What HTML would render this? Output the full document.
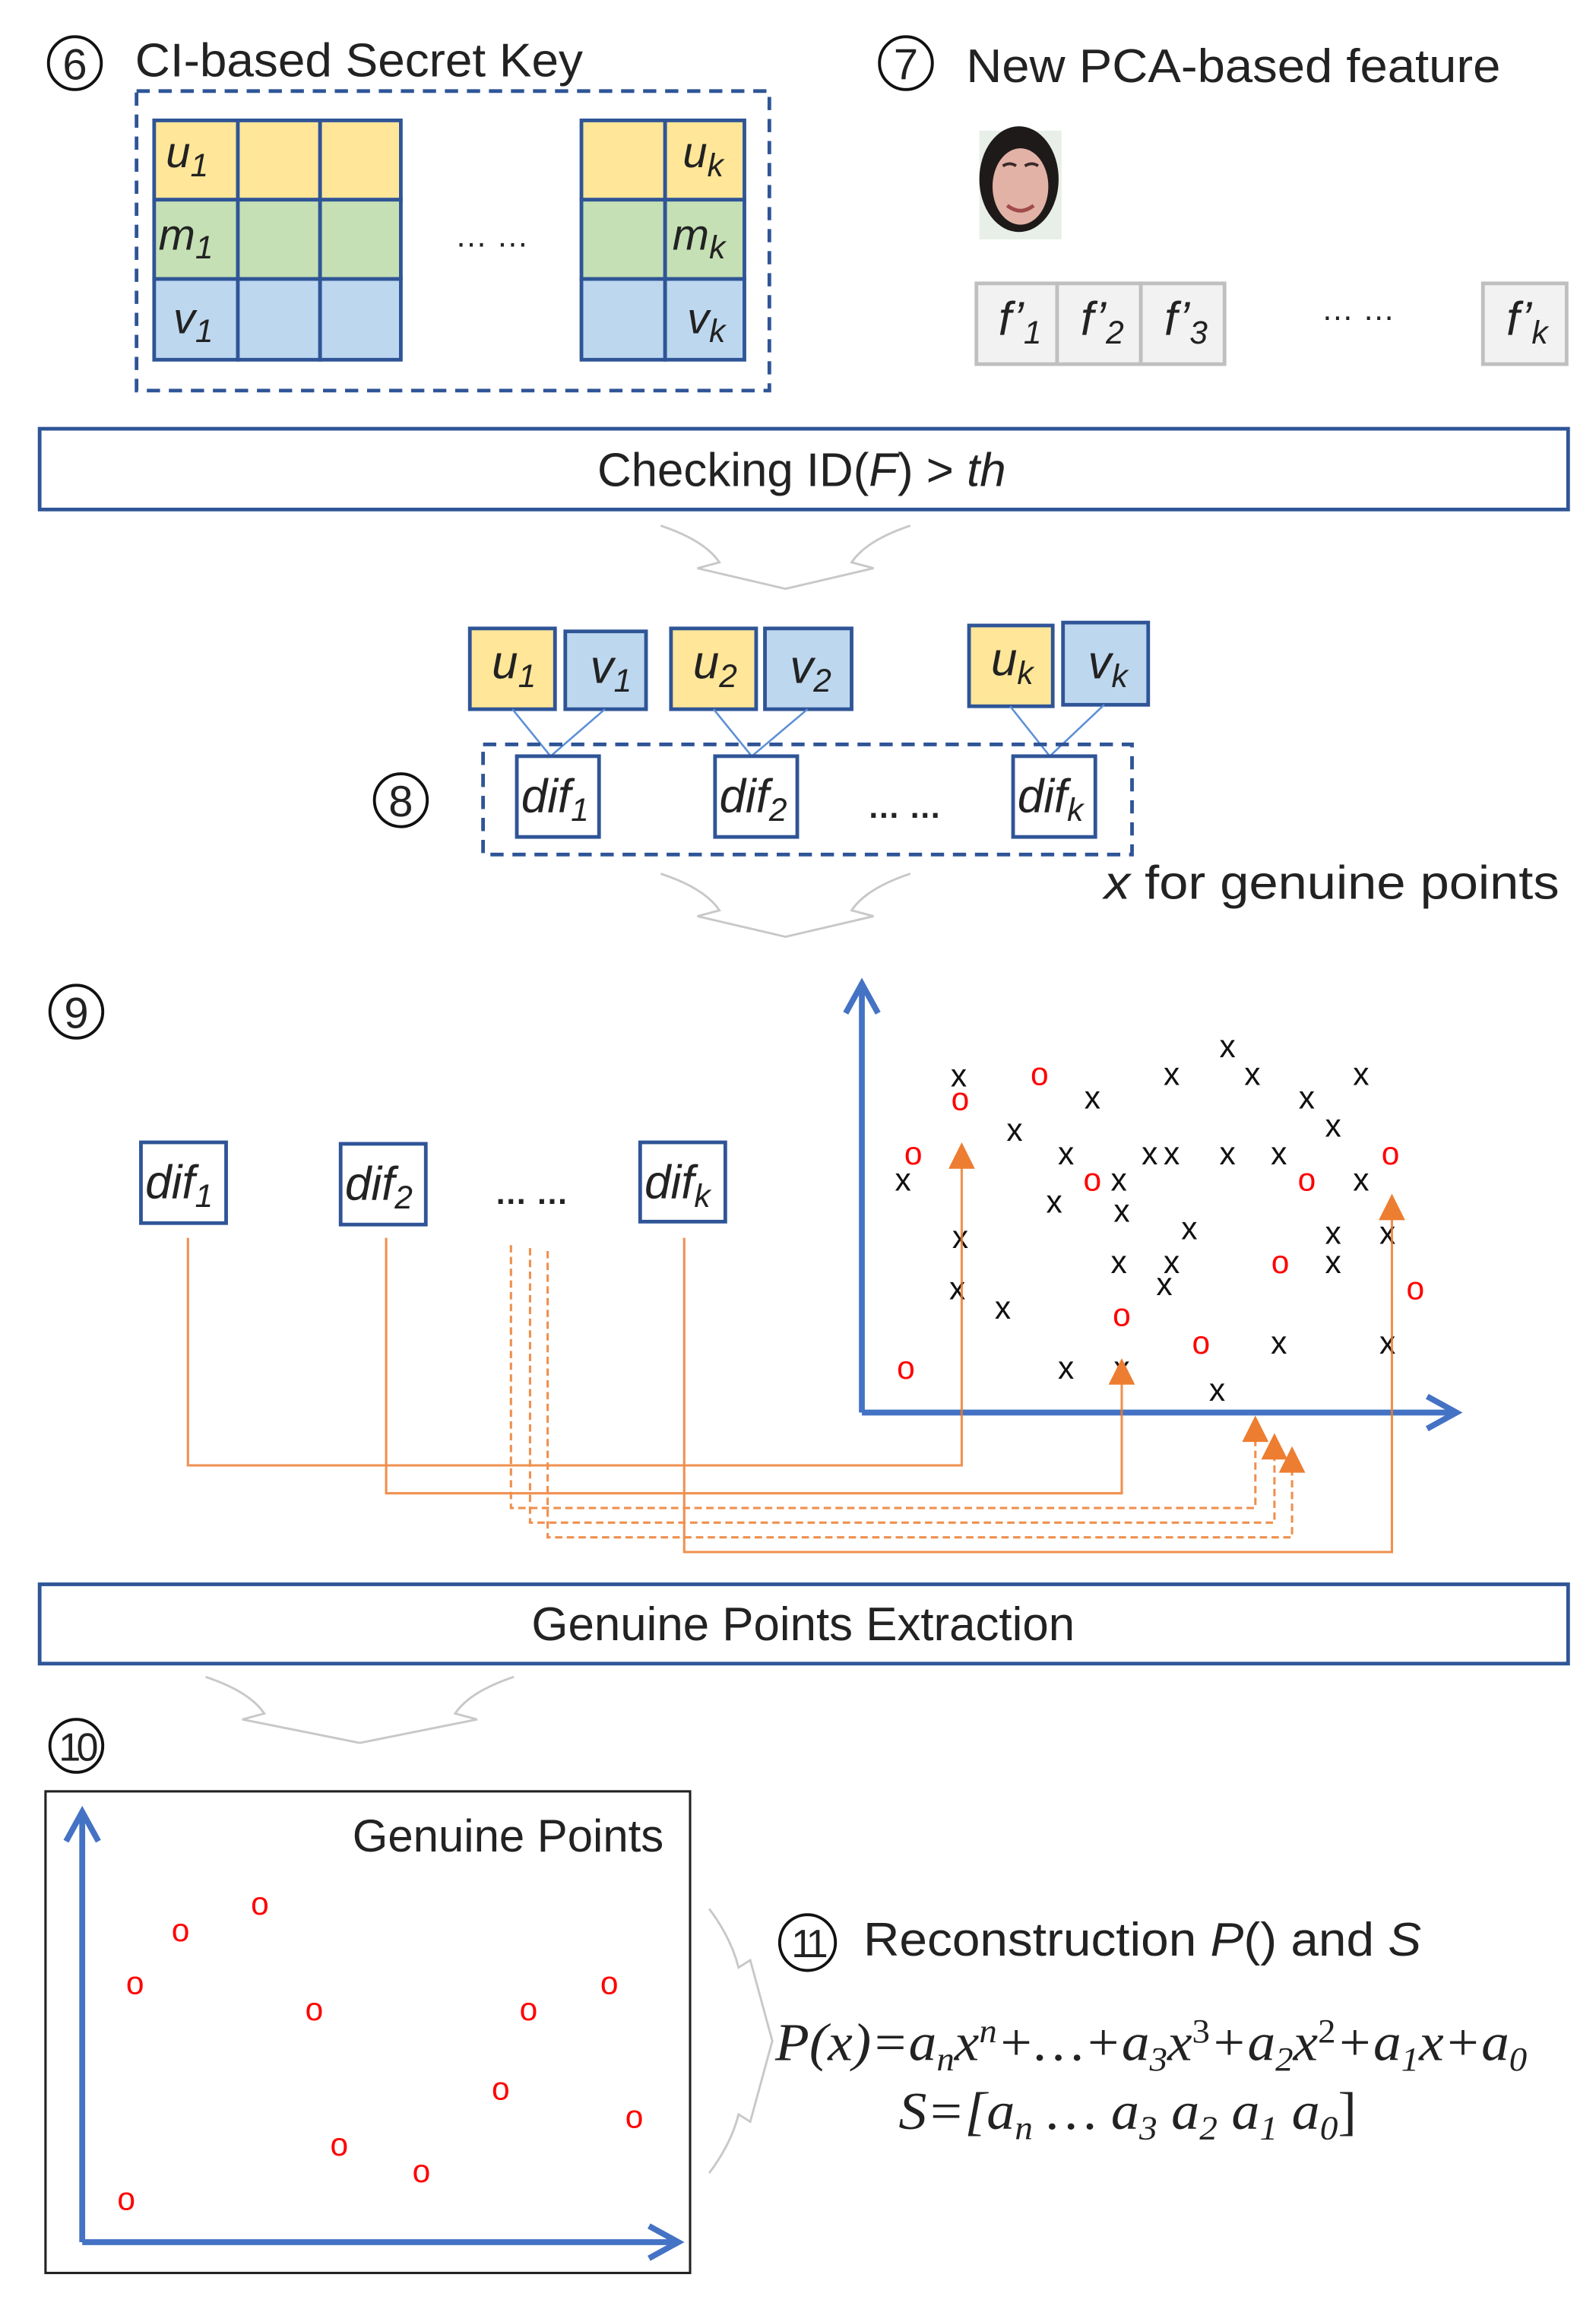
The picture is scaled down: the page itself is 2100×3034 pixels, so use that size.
<!DOCTYPE html>
<html><head><meta charset="utf-8"><style>
html,body{margin:0;padding:0;background:#fff}
svg{display:block}
.t{font-family:"Liberation Sans",sans-serif;fill:#222}
.i{font-family:"Liberation Sans",sans-serif;font-style:italic;fill:#222}
.s{font-family:"Liberation Serif",serif;font-style:italic;fill:#222}
.x{font-family:"Liberation Sans",sans-serif;font-size:22px;fill:#111;text-anchor:middle}
.o{font-family:"Liberation Sans",sans-serif;font-size:22px;fill:#f00;text-anchor:middle}
</style></head><body>
<svg width="2100" height="3034" viewBox="0 0 1087 1570.5" preserveAspectRatio="none" xmlns="http://www.w3.org/2000/svg">
<!-- 6 -->
<circle cx="51" cy="43" r="18" fill="none" stroke="#111" stroke-width="2"/>
<text x="51" y="54" class="t" font-size="30" text-anchor="middle" fill="#111">6</text>
<text x="92" y="52" class="t" font-size="32" textLength="305" lengthAdjust="spacingAndGlyphs">CI-based Secret Key</text>
<rect x="93" y="62" width="431" height="204" fill="none" stroke="#2f5597" stroke-width="2.5" stroke-dasharray="9,6"/>
<g stroke="#2f5597" stroke-width="2.5">
<rect x="105" y="82" width="57" height="54" fill="#ffe699"/><rect x="162" y="82" width="56" height="54" fill="#ffe699"/><rect x="218" y="82" width="55" height="54" fill="#ffe699"/>
<rect x="105" y="136" width="57" height="54" fill="#c5e0b4"/><rect x="162" y="136" width="56" height="54" fill="#c5e0b4"/><rect x="218" y="136" width="55" height="54" fill="#c5e0b4"/>
<rect x="105" y="190" width="57" height="55" fill="#bdd7ee"/><rect x="162" y="190" width="56" height="55" fill="#bdd7ee"/><rect x="218" y="190" width="55" height="55" fill="#bdd7ee"/>
<rect x="396" y="82" width="57" height="54" fill="#ffe699"/><rect x="453" y="82" width="54" height="54" fill="#ffe699"/>
<rect x="396" y="136" width="57" height="54" fill="#c5e0b4"/><rect x="453" y="136" width="54" height="54" fill="#c5e0b4"/>
<rect x="396" y="190" width="57" height="55" fill="#bdd7ee"/><rect x="453" y="190" width="54" height="55" fill="#bdd7ee"/>
</g>
<g class="i" font-size="30">
<text x="113" y="114">u<tspan font-size="22" dy="6">1</tspan></text>
<text x="108" y="170">m<tspan font-size="22" dy="6">1</tspan></text>
<text x="118" y="227">v<tspan font-size="22" dy="6">1</tspan></text>
<text x="465" y="114">u<tspan font-size="22" dy="6">k</tspan></text>
<text x="458" y="170">m<tspan font-size="22" dy="6">k</tspan></text>
<text x="468" y="227">v<tspan font-size="22" dy="6">k</tspan></text>
</g>
<text x="335" y="168" class="t" font-size="22" text-anchor="middle">… …</text>
<!-- 7 -->
<circle cx="617" cy="43" r="18" fill="none" stroke="#111" stroke-width="2"/>
<text x="617" y="54" class="t" font-size="30" text-anchor="middle" fill="#111">7</text>
<text x="658" y="56" class="t" font-size="32" textLength="364" lengthAdjust="spacingAndGlyphs">New PCA-based feature</text>
<!-- face -->
<rect x="667" y="89" width="56" height="74" fill="#e8efe8"/>
<ellipse cx="694" cy="122" rx="27" ry="36" fill="#1e1a1a"/>
<ellipse cx="695" cy="127" rx="19" ry="26" fill="#e3b2a6"/>
<path d="M683 113 q5-3 9 0 M698 113 q5-3 9 0" stroke="#3a2a2a" stroke-width="2" fill="none"/>
<path d="M686 140 q9 7 18 0" stroke="#a04a4a" stroke-width="2.5" fill="none"/>
<g stroke="#bfbfbf" stroke-width="2.5" fill="#f2f2f2">
<rect x="665" y="193" width="55" height="55"/><rect x="720" y="193" width="57" height="55"/><rect x="777" y="193" width="57" height="55"/><rect x="1010" y="193" width="57" height="55"/>
</g>
<g class="i" font-size="32">
<text x="680" y="228">f’<tspan font-size="22" dy="6">1</tspan></text>
<text x="736" y="228">f’<tspan font-size="22" dy="6">2</tspan></text>
<text x="793" y="228">f’<tspan font-size="22" dy="6">3</tspan></text>
<text x="1026" y="228">f’<tspan font-size="22" dy="6">k</tspan></text>
</g>
<text x="925" y="218" class="t" font-size="22" text-anchor="middle">… …</text>
<!-- checking -->
<rect x="27" y="292" width="1041" height="55" fill="#fff" stroke="#2f5597" stroke-width="2.5"/>
<text x="546" y="331" class="t" font-size="32" text-anchor="middle">Checking ID(<tspan font-style="italic">F</tspan>) &gt; <tspan font-style="italic">th</tspan></text>
<!-- chevrons -->
<g fill="none" stroke="#c8c8c8" stroke-width="1.5">
<path d="M450 358 q30 10 40 25 l-15 4 l60 14 l60-14 l-15-4 q10-15 40-25"/>
<path d="M450 595 q30 10 40 25 l-15 4 l60 14 l60-14 l-15-4 q10-15 40-25"/>
<path d="M140 1142 q30 10 40 25 l-15 4 l80 16 l80-16 l-15-4 q10-15 40-25"/>
<path d="M483 1300 q15 20 20 40 l8-5 l15 55 l-15 55 l-8-5 q-5 20 -20 40"/>
</g>
<!-- 8 -->
<g stroke="#2f5597" stroke-width="2.5">
<rect x="320" y="428" width="58" height="55" fill="#ffe699"/><rect x="385" y="430" width="55" height="53" fill="#bdd7ee"/>
<rect x="457" y="428" width="58" height="55" fill="#ffe699"/><rect x="521" y="428" width="59" height="55" fill="#bdd7ee"/>
<rect x="660" y="426" width="57" height="55" fill="#ffe699"/><rect x="724" y="424" width="58" height="56" fill="#bdd7ee"/>
</g>
<g class="i" font-size="32">
<text x="335" y="462">u<tspan font-size="22" dy="6">1</tspan></text>
<text x="402" y="465">v<tspan font-size="22" dy="6">1</tspan></text>
<text x="472" y="462">u<tspan font-size="22" dy="6">2</tspan></text>
<text x="538" y="465">v<tspan font-size="22" dy="6">2</tspan></text>
<text x="675" y="460">u<tspan font-size="22" dy="6">k</tspan></text>
<text x="741" y="462">v<tspan font-size="22" dy="6">k</tspan></text>
</g>
<g stroke="#5b8fd6" stroke-width="1.3" fill="none">
<path d="M349 483 L375 515 L412 483"/><path d="M486 483 L512 515 L550 483"/><path d="M688 481 L715 515 L752 480"/>
</g>
<rect x="329" y="507" width="442" height="75" fill="none" stroke="#2f5597" stroke-width="2.5" stroke-dasharray="9,6"/>
<g stroke="#2f5597" stroke-width="2.5" fill="#fff">
<rect x="352" y="515" width="56" height="55"/><rect x="487" y="515" width="56" height="55"/><rect x="690" y="515" width="56" height="55"/>
<rect x="96" y="778" width="58" height="55"/><rect x="232" y="779" width="58" height="55"/><rect x="436" y="778" width="58" height="54"/>
</g>
<g class="i" font-size="32">
<text x="355" y="553">dif<tspan font-size="22" dy="6">1</tspan></text>
<text x="490" y="553">dif<tspan font-size="22" dy="6">2</tspan></text>
<text x="693" y="553">dif<tspan font-size="22" dy="6">k</tspan></text>
<text x="99" y="816">dif<tspan font-size="22" dy="6">1</tspan></text>
<text x="235" y="817">dif<tspan font-size="22" dy="6">2</tspan></text>
<text x="439" y="816">dif<tspan font-size="22" dy="6">k</tspan></text>
</g>
<text x="616" y="557" class="t" font-size="22" text-anchor="middle" font-weight="bold">… …</text>
<text x="362" y="820" class="t" font-size="22" text-anchor="middle" font-weight="bold">… …</text>
<circle cx="273" cy="545" r="18" fill="none" stroke="#111" stroke-width="2"/>
<text x="273" y="556" class="t" font-size="30" text-anchor="middle" fill="#111">8</text>
<text x="752" y="612" class="t" font-size="32" textLength="310" lengthAdjust="spacingAndGlyphs"><tspan font-style="italic">x</tspan> for genuine points</text>
<!-- 9 -->
<circle cx="52" cy="689" r="18" fill="none" stroke="#111" stroke-width="2"/>
<text x="52" y="700" class="t" font-size="30" text-anchor="middle" fill="#111">9</text>
<g stroke="#4472c4" stroke-width="4" fill="none">
<path d="M587 962 V670 M576 690 L587 670 L598 690"/>
<path d="M587 962 H990 M972 951 L992 962 L972 973"/>
</g>
<g class="x">
<text x="653" y="740">x</text><text x="744" y="755">x</text><text x="798" y="739">x</text><text x="836" y="720">x</text><text x="853" y="739">x</text><text x="890" y="755">x</text><text x="927" y="739">x</text><text x="691" y="777">x</text><text x="908" y="774">x</text><text x="726" y="793">x</text><text x="783" y="793">x</text><text x="798" y="793">x</text><text x="836" y="793">x</text><text x="871" y="793">x</text><text x="615" y="811">x</text><text x="762" y="811">x</text><text x="927" y="811">x</text><text x="718" y="826">x</text><text x="764" y="832">x</text><text x="810" y="844">x</text><text x="908" y="847">x</text><text x="945" y="847">x</text><text x="654" y="850">x</text><text x="762" y="867">x</text><text x="798" y="867">x</text><text x="908" y="867">x</text><text x="793" y="882">x</text><text x="652" y="885">x</text><text x="683" y="898">x</text><text x="871" y="922">x</text><text x="945" y="922">x</text><text x="726" y="939">x</text><text x="764" y="939">x</text><text x="829" y="954">x</text>
</g>
<g class="o">
<text x="708" y="739">o</text><text x="654" y="756">o</text><text x="622" y="793">o</text><text x="744" y="811">o</text><text x="890" y="811">o</text><text x="947" y="793">o</text><text x="872" y="867">o</text><text x="964" y="885">o</text><text x="764" y="903">o</text><text x="818" y="922">o</text><text x="617" y="939">o</text>
</g>
<g stroke="#ed7d31" stroke-width="1.6" fill="none" opacity="0.85">
<path d="M128 843 V998 H655 V792"/>
<path d="M263 843 V1017 H764 V940"/>
<path d="M466 843 V1057 H948 V828"/>
<path d="M348 848 V1027 H855 V978" stroke-dasharray="5,3"/>
<path d="M361 850 V1037 H868 V990" stroke-dasharray="5,3"/>
<path d="M373 852 V1047 H880 V1000" stroke-dasharray="5,3"/>
</g>
<g fill="#ed7d31">
<path d="M655 778 L646 796 L664 796Z"/><path d="M764 925 L755 943 L773 943Z"/><path d="M948 813 L939 831 L957 831Z"/>
<path d="M855 964 L846 982 L864 982Z"/><path d="M868 976 L859 994 L877 994Z"/><path d="M880 985 L871 1003 L889 1003Z"/>
</g>
<!-- extraction -->
<rect x="27" y="1079" width="1041" height="54" fill="#fff" stroke="#2f5597" stroke-width="2.5"/>
<text x="547" y="1117" class="t" font-size="32" text-anchor="middle">Genuine Points Extraction</text>
<!-- 10 -->
<circle cx="52" cy="1189" r="18" fill="none" stroke="#111" stroke-width="2"/>
<text x="52" y="1199" class="t" font-size="27" text-anchor="middle" fill="#111" letter-spacing="-3">10</text>
<rect x="31" y="1220" width="439" height="328" fill="#fff" stroke="#222" stroke-width="1.6"/>
<g stroke="#4472c4" stroke-width="4" fill="none">
<path d="M56 1527 V1234 M45 1254 L56 1234 L67 1254"/>
<path d="M56 1527 H460 M442 1516 L462 1527 L442 1538"/>
</g>
<text x="452" y="1261" class="t" font-size="31" text-anchor="end">Genuine Points</text>
<g class="o">
<text x="123" y="1322">o</text><text x="177" y="1304">o</text><text x="92" y="1358">o</text><text x="214" y="1376">o</text><text x="360" y="1376">o</text><text x="415" y="1358">o</text><text x="341" y="1430">o</text><text x="432" y="1449">o</text><text x="231" y="1468">o</text><text x="287" y="1486">o</text><text x="86" y="1505">o</text>
</g>
<!-- 11 -->
<circle cx="550" cy="1323" r="19" fill="none" stroke="#111" stroke-width="2"/>
<text x="550" y="1333" class="t" font-size="27" text-anchor="middle" fill="#111" letter-spacing="-3">11</text>
<text x="588" y="1332" class="t" font-size="32" textLength="380" lengthAdjust="spacingAndGlyphs">Reconstruction <tspan font-style="italic">P</tspan>() and <tspan font-style="italic">S</tspan></text>
<text x="528" y="1403" class="s" font-size="36" textLength="512" lengthAdjust="spacingAndGlyphs">P(x)=a<tspan font-size="23" dy="7">n</tspan><tspan dy="-7">x</tspan><tspan font-size="23" dy="-12">n</tspan><tspan dy="12">+…+a</tspan><tspan font-size="23" dy="7">3</tspan><tspan dy="-7">x</tspan><tspan font-size="23" dy="-12" font-style="normal">3</tspan><tspan dy="12">+a</tspan><tspan font-size="23" dy="7">2</tspan><tspan dy="-7">x</tspan><tspan font-size="23" dy="-12" font-style="normal">2</tspan><tspan dy="12">+a</tspan><tspan font-size="23" dy="7">1</tspan><tspan dy="-7">x+a</tspan><tspan font-size="23" dy="7">0</tspan></text>
<text x="612" y="1450" class="s" font-size="36" textLength="312" lengthAdjust="spacingAndGlyphs">S=[a<tspan font-size="23" dy="7">n</tspan><tspan dy="-7"> … a</tspan><tspan font-size="23" dy="7">3</tspan><tspan dy="-7"> a</tspan><tspan font-size="23" dy="7">2</tspan><tspan dy="-7"> a</tspan><tspan font-size="23" dy="7">1</tspan><tspan dy="-7"> a</tspan><tspan font-size="23" dy="7">0</tspan><tspan dy="-7" font-style="normal">]</tspan></text>
</svg>
</body></html>
